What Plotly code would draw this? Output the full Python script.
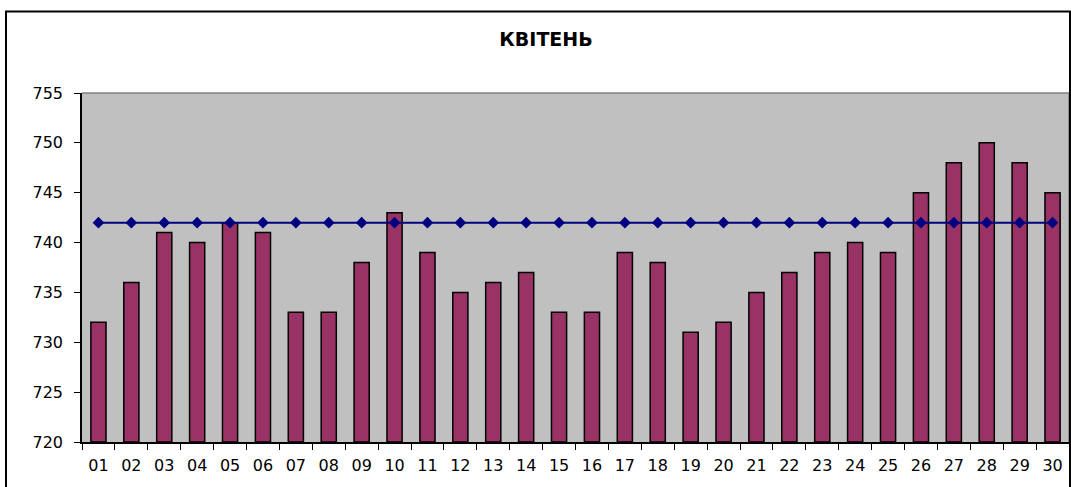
import plotly.graph_objects as go

# daily values for April
days = ["%02d" % d for d in range(1, 31)]
values = [732, 736, 741, 740, 742, 741, 733, 733, 738, 743,
          739, 735, 736, 737, 733, 733, 739, 738, 731, 732,
          735, 737, 739, 740, 739, 745, 748, 750, 748, 745]
norm = [742] * 30
y_ticks = [720, 725, 730, 735, 740, 745, 750, 755]

fig = go.Figure()
fig.add_trace(go.Bar(
    x=days, y=[v - 720 for v in values], base=720,
    marker=dict(color="#993366", line=dict(color="black", width=1.5)),
    showlegend=False))
fig.add_trace(go.Scatter(
    x=days, y=norm, mode="lines+markers",
    line=dict(color="#000080", width=2),
    marker=dict(symbol="diamond", size=9, color="#000080"),
    showlegend=False))

fig.update_layout(
    width=1071, height=487,
    margin=dict(l=82, r=2, t=93, b=45),
    paper_bgcolor="white",
    plot_bgcolor="#C0C0C0",
    bargap=0.54,
    font=dict(family="DejaVu Sans", size=16, color="black"),
    title=dict(text="<b>КВІТЕНЬ</b>", x=546 / 1071, xanchor="center",
               y=1 - 39 / 487, yanchor="middle",
               font=dict(size=19)),
)
fig.update_xaxes(
    type="category", range=[-0.5, 29.5], showgrid=False, showline=True,
    linecolor="black", linewidth=1.5, ticks="outside", tickson="boundaries",
    ticklen=6, tickcolor="black", ticklabelstandoff=8)
fig.update_yaxes(
    range=[720, 755], tickvals=y_ticks, showgrid=False, zeroline=False,
    showline=True, linecolor="black", linewidth=1.5, ticks="outside",
    ticklen=6, tickcolor="black", ticklabelstandoff=8)

# gray frame on top/right of plot area
fig.add_shape(type="line", xref="paper", yref="paper", x0=0, x1=1, y0=1, y1=1,
              line=dict(color="#808080", width=1.5))
fig.add_shape(type="line", xref="paper", yref="paper", x0=1, x1=1, y0=0, y1=1,
              line=dict(color="#808080", width=1.5))
# outer chart border
fig.add_shape(type="rect", xref="paper", yref="paper",
              x0=-0.077, x1=1.001, y0=-0.2, y1=1.2335,
              line=dict(color="black", width=2))

fig.write_html("out.html", config={"displayModeBar": False},
               post_script="document.body.style.margin='0';")
